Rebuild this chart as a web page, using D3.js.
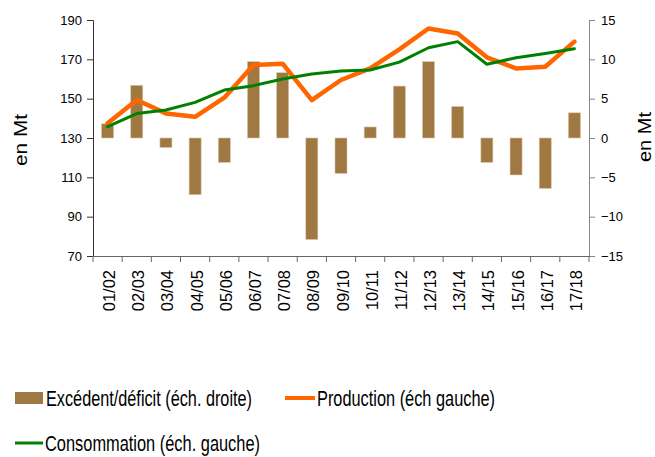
<!DOCTYPE html>
<html>
<head>
<meta charset="utf-8">
<script src="https://cdnjs.cloudflare.com/ajax/libs/d3/7.8.5/d3.min.js"></script>
<style>
  body { margin: 0; background: #fff; }
  text { font-family: "Liberation Sans", Arial, sans-serif; fill: #000; }
</style>
</head>
<body>
<svg id="chart" width="655" height="457"></svg>
<script>
// campaigns
let seasons = ["01/02", "02/03", "03/04", "04/05", "05/06", "06/07", "07/08", "08/09", "09/10",
    "10/11", "11/12", "12/13", "13/14", "14/15", "15/16", "16/17", "17/18"];
// surplus / deficit, right scale (Mt)
let balance = [1.8, 6.7, -1.2, -7.2, -3.1, 9.7, 8.3, -12.9, -4.5, 1.4, 6.6, 9.7, 4.0, -3.1, -4.7, -6.4, 3.2];
// production, left scale (Mt)
let production = [137.5, 149.3, 142.5, 140.8, 150.5, 167.1, 167.8, 149.3, 159.5, 165.4, 175.1, 185.7, 183.1, 171, 165.4, 166.2, 179];
// consumption, left scale (Mt)
let consumption = [135.8, 142.4, 144.2, 148.1, 154.4, 156.6, 160, 162.5, 164.1, 164.6, 168.6, 175.9, 179, 167.5, 170.8, 173, 175.4];
let leftTicks = [70, 90, 110, 130, 150, 170, 190];
let rightTicks = [-15, -10, -5, 0, 5, 10, 15];

const svg = d3.select("#chart");
let plotLeft = 93, plotRight = 589, plotTop = 20, plotBottom = 256;

let x = d3.scaleBand().domain(seasons).range([plotLeft, plotRight]).paddingInner(0).paddingOuter(0);
let yL = d3.scaleLinear().domain([70, 190]).range([plotBottom, plotTop]);
let yR = d3.scaleLinear().domain([-15, 15]).range([plotBottom, plotTop]);

// bars
let barW = 12;
svg.append("g").selectAll("rect")
    .data(balance)
    .join("rect")
    .attr("x", (d, i) => x(seasons[i]) + x.bandwidth() / 2 - barW / 2)
    .attr("y", d => yR(Math.max(0, d)))
    .attr("width", barW)
    .attr("height", d => Math.abs(yR(d) - yR(0)))
    .attr("fill", "#9f7842")
    .attr("stroke", "#d8c4a4")
    .attr("stroke-width", 0.6);

let line = yScale => d3.line()
    .x((d, i) => x(seasons[i]) + x.bandwidth() / 2)
    .y(d => yScale(d));

svg.append("path").datum(production)
    .attr("d", line(yL))
    .attr("fill", "none").attr("stroke", "#ff6600").attr("stroke-width", 4.5)
    .attr("stroke-linejoin", "round").attr("stroke-linecap", "round");

svg.append("path").datum(consumption)
    .attr("d", line(yL))
    .attr("fill", "none").attr("stroke", "#008000").attr("stroke-width", 3)
    .attr("stroke-linejoin", "round").attr("stroke-linecap", "round");

// axes
let axL = svg.append("g").attr("transform", `translate(${plotLeft},0)`)
    .call(d3.axisLeft(yL).tickValues(leftTicks).tickSize(6).tickPadding(5));
axL.selectAll("path,line").attr("stroke", "#333");
axL.selectAll("text").style("font-size", "13px").attr("fill", "#222");

let axR = svg.append("g").attr("transform", `translate(${plotRight},0)`)
    .call(d3.axisRight(yR).tickValues(rightTicks).tickSize(6).tickPadding(6));
axR.selectAll("path,line").attr("stroke", "#888");
axR.selectAll("text").style("font-size", "13px").attr("fill", "#222");

let axX = svg.append("g").attr("transform", `translate(0,${plotBottom})`)
    .call(d3.axisBottom(x).tickSize(0).tickPadding(0));
axX.select(".domain").attr("stroke", "#666");
axX.selectAll("text")
    .style("font-size", "16.5px")
    .attr("text-anchor", "end")
    .attr("dy", null)
    .attr("transform", "translate(7.5,14) rotate(-90)");
// boundary ticks
svg.append("g").selectAll("line")
    .data(d3.range(seasons.length + 1))
    .join("line")
    .attr("x1", i => plotLeft + i * x.step()).attr("x2", i => plotLeft + i * x.step())
    .attr("y1", plotBottom).attr("y2", plotBottom + 6)
    .attr("stroke", "#666");

// axis titles
svg.append("text").attr("transform", "translate(27,140) rotate(-90)")
    .attr("text-anchor", "middle").style("font-size", "19px")
    .attr("textLength", 52).attr("lengthAdjust", "spacingAndGlyphs").text("en Mt");
svg.append("text").attr("transform", "translate(651,137) rotate(-90)")
    .attr("text-anchor", "middle").style("font-size", "19px")
    .attr("textLength", 50).attr("lengthAdjust", "spacingAndGlyphs").text("en Mt");

// legend
let lg = svg.append("g").style("font-size", "22px");
lg.append("rect").attr("x", 15).attr("y", 392).attr("width", 28).attr("height", 12).attr("fill", "#9f7842");
lg.append("text").attr("x", 46).attr("y", 406)
    .attr("textLength", 206).attr("lengthAdjust", "spacingAndGlyphs")
    .text("Excédent/déficit (éch. droite)");
lg.append("line").attr("x1", 285).attr("x2", 315).attr("y1", 398).attr("y2", 398)
    .attr("stroke", "#ff6600").attr("stroke-width", 4);
lg.append("text").attr("x", 317).attr("y", 406)
    .attr("textLength", 178).attr("lengthAdjust", "spacingAndGlyphs")
    .text("Production (éch gauche)");
lg.append("line").attr("x1", 15).attr("x2", 43).attr("y1", 443).attr("y2", 443)
    .attr("stroke", "#008000").attr("stroke-width", 3);
lg.append("text").attr("x", 45).attr("y", 451)
    .attr("textLength", 215).attr("lengthAdjust", "spacingAndGlyphs")
    .text("Consommation (éch. gauche)");
</script>
</body>
</html>
